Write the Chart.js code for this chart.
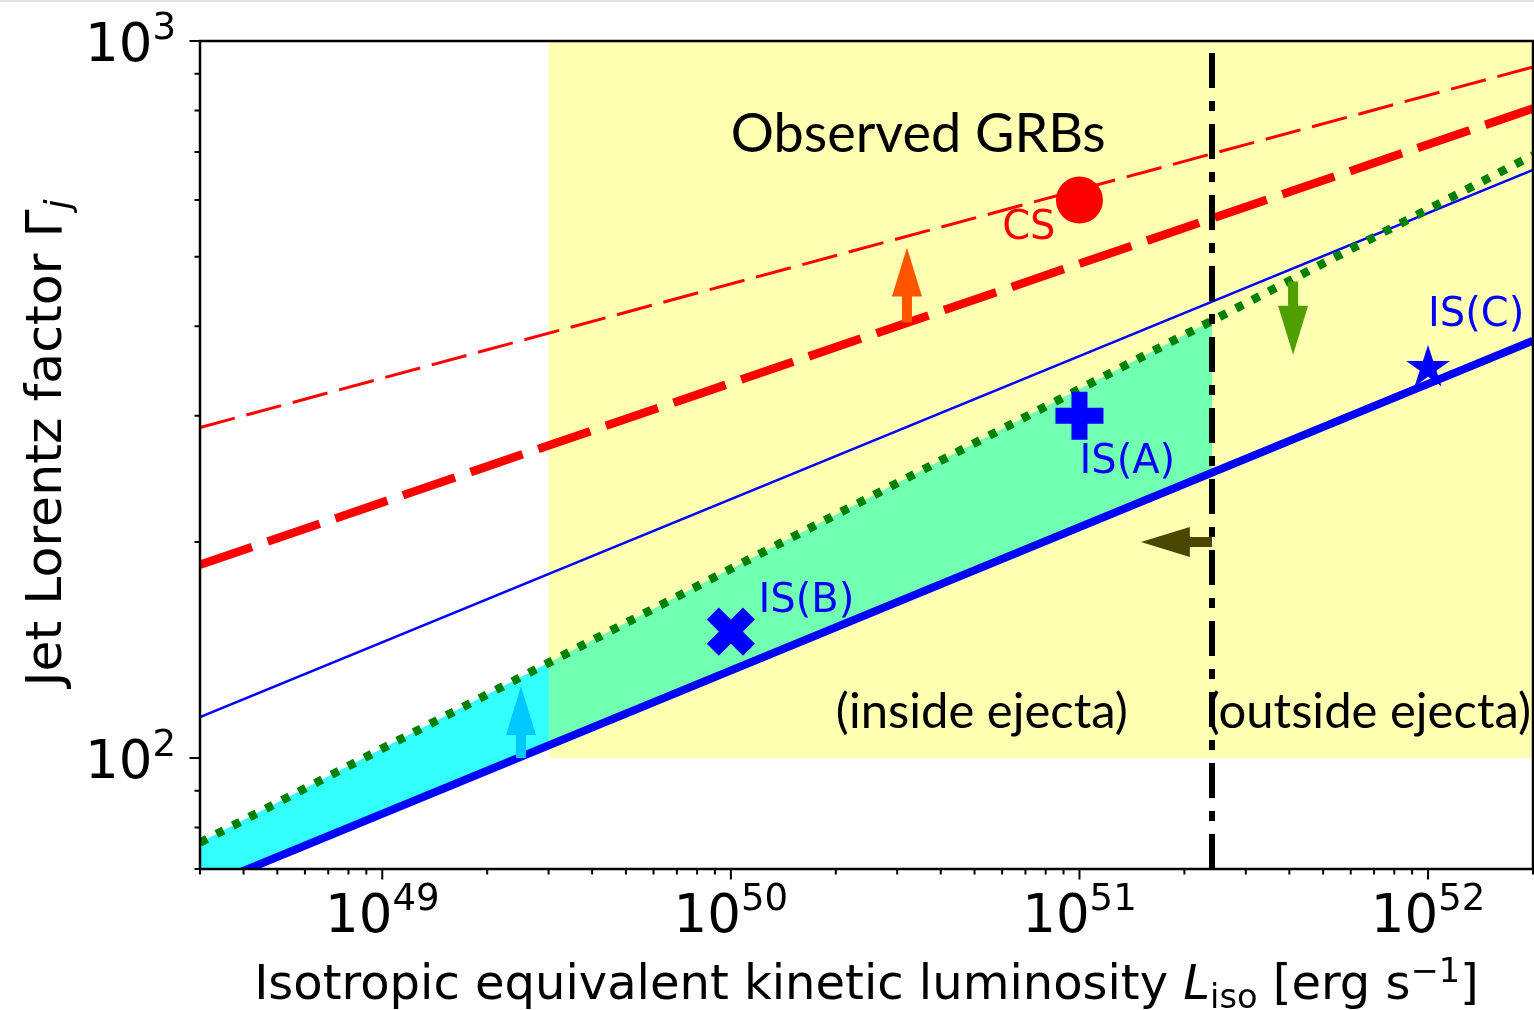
<!DOCTYPE html>
<html lang="en">
<head>
<meta charset="UTF-8">
<title>Jet Lorentz factor vs. isotropic luminosity</title>
<script src="https://cdn.jsdelivr.net/npm/chart.js@4.4.1/dist/chart.umd.min.js"></script>
<style>
  body { margin: 0; background: #fff; }
  #wrap { position: relative; width: 1534px; height: 1010px; }
  #wrap canvas { position: absolute; left: 0; top: 0; }
  #topRule { position: absolute; left: 0; top: 0; width: 1534px; height: 2px; background: #e2e2e2; }
</style>
</head>
<body>
<div id="wrap">
  <canvas id="grb" width="1534" height="1010"></canvas>
  <div id="topRule"></div>
</div>
<script>
// axis ranges
const lumRange = [3e48, 2e52];
const gammaRange = [70, 1000];

// model lines: Gamma at both ends of the luminosity range
const lineLum = [3e48, 2e52];
const csThin = [289, 920];      // thin red dashed
const csThick = [186, 805];     // thick red dashed
const isThin = [114, 661];      // thin blue
const isThick = [65.7, 382];    // thick blue
const isDotted = [76.2, 693];   // green dotted

// ejecta edge and observed GRB region
const ejectaLum = 2.4e51;
const obsLumMin = 3e49;
const obsGammaMin = 100;

// model points
const csPoint = [1e51, 600];
const isA = [1e51, 300];
const isB = [1e50, 150];
const isC = [1e52, 350];

// arrows: start and end in data units
const arrowFrom = [[3.2e50, 405], [4.1e51, 462], [2.5e49, 100], [2.4e51, 200]];
const arrowTo = [[3.2e50, 515], [4.1e51, 365], [2.5e49, 126], [1.5e51, 200]];
const arrowColor = ['#ff5500', '#4ea000', '#00c8ff', '#4a4700'];

// text notes
const noteText = ['CS', 'IS(A)', 'IS(B)', 'IS(C)', 'Observed GRBs', '(inside ejecta)', '(outside ejecta)'];
const noteLum = [6e50, 1e51, 1.2e50, 1e52, 1e50, 2e50, 2.32e51];
const noteGamma = [530, 250, 160, 400, 700, 110, 110];
const noteColor = ['#ff0000', '#0000ff', '#0000ff', '#0000ff', '#000', '#000', '#000'];
const noteSize = [40, 40, 40, 40, 54, 49, 49];

// ticks
const lumTicks = [1e49, 1e50, 1e51, 1e52];
const lumTickExp = ['49', '50', '51', '52'];
const gammaTicks = [100, 1000];
const gammaTickExp = ['2', '3'];
const lumMinor = [];
for (let e = 48; e <= 52; e++) for (let m = 2; m <= 9; m++) lumMinor.push(m * Math.pow(10, e));
const gammaMinor = [70, 80, 90, 200, 300, 400, 500, 600, 700, 800, 900];

const DJV = '"DejaVu Sans"';
const HUM = 'Lato';

const pair = (lx, gy) => lx.map((v, i) => ({ x: v, y: gy[i] }));
const pt = (p) => [{ x: p[0], y: p[1] }];

// filled five-point star marker
const starImg = document.createElement('canvas');
starImg.width = 56; starImg.height = 56;
(function () {
  const c = starImg.getContext('2d');
  const R = 23, r = R * 0.381966;
  c.beginPath();
  for (let i = 0; i < 10; i++) {
    const a = -Math.PI / 2 + i * Math.PI / 5;
    const rr = i % 2 ? r : R;
    c.lineTo(28 + rr * Math.cos(a), 28 + rr * Math.sin(a));
  }
  c.closePath();
  c.fillStyle = '#0000ff';
  c.fill();
})();

const IDX_DOTTED = 7, IDX_THICK = 9;

function fontOf(s, base) {
  return (s.italic ? 'italic ' : '') + (base * (s.scale || 1)) + 'px ' + DJV;
}
function richWidth(ctx, segs, base) {
  let w = 0;
  for (const s of segs) { ctx.font = fontOf(s, base); w += ctx.measureText(s.t).width; }
  return w;
}
function drawRich(ctx, segs, base, x, y) {
  for (const s of segs) {
    ctx.font = fontOf(s, base);
    ctx.fillText(s.t, x, y + (s.shift || 0) * base);
    x += ctx.measureText(s.t).width;
  }
}
function powLabel(ctx, exp, x, y, size, align) {
  const segs = [{ t: '10' }, { t: exp, scale: 0.7, shift: -0.41 }];
  const w = richWidth(ctx, segs, size);
  drawRich(ctx, segs, size, align === 'right' ? x - w : x - w / 2, y);
}
function drawArrow(ctx, x0, y0, x1, y1, color) {
  const dx = x1 - x0, dy = y1 - y0, len = Math.hypot(dx, dy);
  const ux = dx / len, uy = dy / len, nx = -uy, ny = ux;
  const sw = 5, hw = 15, hl = 49;
  const bx = x1 - ux * hl, by = y1 - uy * hl;
  ctx.beginPath();
  ctx.moveTo(x0 + nx * sw, y0 + ny * sw);
  ctx.lineTo(bx + nx * sw, by + ny * sw);
  ctx.lineTo(bx + nx * hw, by + ny * hw);
  ctx.lineTo(x1, y1);
  ctx.lineTo(bx - nx * hw, by - ny * hw);
  ctx.lineTo(bx - nx * sw, by - ny * sw);
  ctx.lineTo(x0 - nx * sw, y0 - ny * sw);
  ctx.closePath();
  ctx.fillStyle = color;
  ctx.fill();
}

// cyan band and yellow box behind the lines
const shading = {
  id: 'shading',
  beforeDatasetsDraw(chart) {
    const { ctx, chartArea: a, scales: { x, y } } = chart;
    const up = chart.getDatasetMeta(IDX_DOTTED).data;
    const lo = chart.getDatasetMeta(IDX_THICK).data;
    ctx.save();
    ctx.beginPath();
    ctx.rect(a.left, a.top, x.getPixelForValue(ejectaLum) - a.left, a.bottom - a.top);
    ctx.clip();
    ctx.beginPath();
    ctx.moveTo(up[0].x, up[0].y);
    ctx.lineTo(up[1].x, up[1].y);
    ctx.lineTo(lo[1].x, lo[1].y);
    ctx.lineTo(lo[0].x, lo[0].y);
    ctx.closePath();
    ctx.fillStyle = 'rgba(0,255,255,0.8)';
    ctx.fill();
    ctx.restore();

    const x0 = x.getPixelForValue(obsLumMin), y0 = y.getPixelForValue(obsGammaMin);
    ctx.save();
    ctx.fillStyle = 'rgba(255,255,0,0.3)';
    ctx.fillRect(x0, a.top, a.right - x0, y0 - a.top);
    ctx.restore();
  }
};

// arrows, frame, ticks, labels and notes
const decor = {
  id: 'decor',
  afterDatasetsDraw(chart) {
    const { ctx, chartArea: a, scales: { x, y } } = chart;
    ctx.save();
    arrowFrom.forEach((f, i) => {
      const t = arrowTo[i];
      drawArrow(ctx, x.getPixelForValue(f[0]), y.getPixelForValue(f[1]),
        x.getPixelForValue(t[0]), y.getPixelForValue(t[1]), arrowColor[i]);
    });

    ctx.textBaseline = 'alphabetic';
    ctx.textAlign = 'left';
    noteText.forEach((t, i) => {
      ctx.fillStyle = noteColor[i];
      ctx.font = noteSize[i] + 'px ' + (i < 4 ? DJV : HUM);
      ctx.fillText(t, x.getPixelForValue(noteLum[i]), y.getPixelForValue(noteGamma[i]));
    });

    // ticks
    ctx.strokeStyle = '#000';
    ctx.lineWidth = 2;
    ctx.beginPath();
    const tickX = (v, len) => {
      const p = x.getPixelForValue(v);
      if (p < a.left - 0.5 || p > a.right + 0.5) return;
      ctx.moveTo(p, a.bottom); ctx.lineTo(p, a.bottom + len);
    };
    const tickY = (v, len) => {
      const p = y.getPixelForValue(v);
      if (p < a.top - 0.5 || p > a.bottom + 0.5) return;
      ctx.moveTo(a.left, p); ctx.lineTo(a.left - len, p);
    };
    lumTicks.forEach(v => tickX(v, 10.5));
    lumMinor.forEach(v => tickX(v, 5.5));
    gammaTicks.forEach(v => tickY(v, 10.5));
    gammaMinor.forEach(v => tickY(v, 5.5));
    ctx.stroke();

    // frame
    ctx.lineWidth = 2.5;
    ctx.strokeRect(a.left, a.top, a.right - a.left, a.bottom - a.top);

    // tick labels
    ctx.fillStyle = '#000';
    lumTicks.forEach((v, i) => powLabel(ctx, lumTickExp[i], x.getPixelForValue(v), a.bottom + 62.7, 53, 'center'));
    gammaTicks.forEach((v, i) => powLabel(ctx, gammaTickExp[i], 176, y.getPixelForValue(v) + 20, 53, 'right'));

    // axis titles
    const xt = [
      { t: 'Isotropic equivalent kinetic luminosity ' },
      { t: 'L', italic: true },
      { t: 'iso', scale: 0.7, shift: 0.18 },
      { t: ' [erg s' },
      { t: '\u22121', scale: 0.7, shift: -0.36 },
      { t: ']' }
    ];
    const xw = richWidth(ctx, xt, 48);
    drawRich(ctx, xt, 48, (a.left + a.right) / 2 - xw / 2, 999);

    const yt = [
      { t: 'Jet Lorentz factor \u0393' },
      { t: 'j', italic: true, scale: 0.7, shift: 0.18 }
    ];
    const yw = richWidth(ctx, yt, 50.5);
    ctx.translate(61, (a.top + a.bottom) / 2 - 12);
    ctx.rotate(-Math.PI / 2);
    drawRich(ctx, yt, 50.5, -yw / 2, 0);
    ctx.restore();
  }
};

new Chart(document.getElementById('grb'), {
  type: 'line',
  data: {
    datasets: [
      { label: 'CS', data: pt(csPoint), showLine: false, pointStyle: 'circle',
        pointRadius: 23.5, pointBackgroundColor: '#ff0000', pointBorderWidth: 0, clip: false },
      { label: 'IS(A)', data: pt(isA), showLine: false, pointStyle: 'cross',
        pointRadius: 24, pointBorderWidth: 16, pointBorderColor: '#0000ff', clip: false },
      { label: 'IS(B)', data: pt(isB), showLine: false, pointStyle: 'crossRot',
        pointRadius: 25.6, pointBorderWidth: 17, pointBorderColor: '#0000ff', clip: false },
      { label: 'IS(C)', data: pt(isC), showLine: false, pointStyle: starImg,
        pointRadius: 23, clip: false },
      { label: 'ejecta edge', data: [{ x: ejectaLum, y: gammaRange[0] }, { x: ejectaLum, y: gammaRange[1] }],
        borderColor: '#000', borderWidth: 6, borderDash: [35, 13, 10, 13], pointRadius: 0, clip: 0 },
      { label: 'CS thin', data: pair(lineLum, csThin), borderColor: '#ff0000', borderWidth: 3,
        borderDash: [36, 12], pointRadius: 0, clip: 0 },
      { label: 'CS thick', data: pair(lineLum, csThick), borderColor: '#ff0000', borderWidth: 8.5,
        borderDash: [55, 16.5], pointRadius: 0, clip: 0 },
      { label: 'IS dotted', data: pair(lineLum, isDotted), borderColor: '#008000', borderWidth: 8.5,
        borderDash: [8, 10.5], pointRadius: 0, clip: 0 },
      { label: 'IS thin', data: pair(lineLum, isThin), borderColor: '#0000ff', borderWidth: 2.5,
        pointRadius: 0, clip: 0 },
      { label: 'IS thick', data: pair(lineLum, isThick), borderColor: '#0000ff', borderWidth: 8,
        pointRadius: 0, clip: 0 }
    ]
  },
  options: {
    responsive: false,
    animation: false,
    events: [],
    layout: { autoPadding: false, padding: { top: 41, right: 1, left: 0, bottom: 0 } },
    plugins: { legend: { display: false }, tooltip: { enabled: false } },
    scales: {
      x: {
        type: 'logarithmic', min: lumRange[0], max: lumRange[1],
        ticks: { display: false }, grid: { display: false }, border: { display: false },
        afterBuildTicks: s => { s.ticks = lumTicks.map(v => ({ value: v })); },
        afterFit: s => { s.height = 141; }
      },
      y: {
        type: 'logarithmic', min: gammaRange[0], max: gammaRange[1],
        ticks: { display: false }, grid: { display: false }, border: { display: false },
        afterBuildTicks: s => { s.ticks = gammaTicks.map(v => ({ value: v })); },
        afterFit: s => { s.width = 200; }
      }
    }
  },
  plugins: [shading, decor]
});
</script>
</body>
</html>
